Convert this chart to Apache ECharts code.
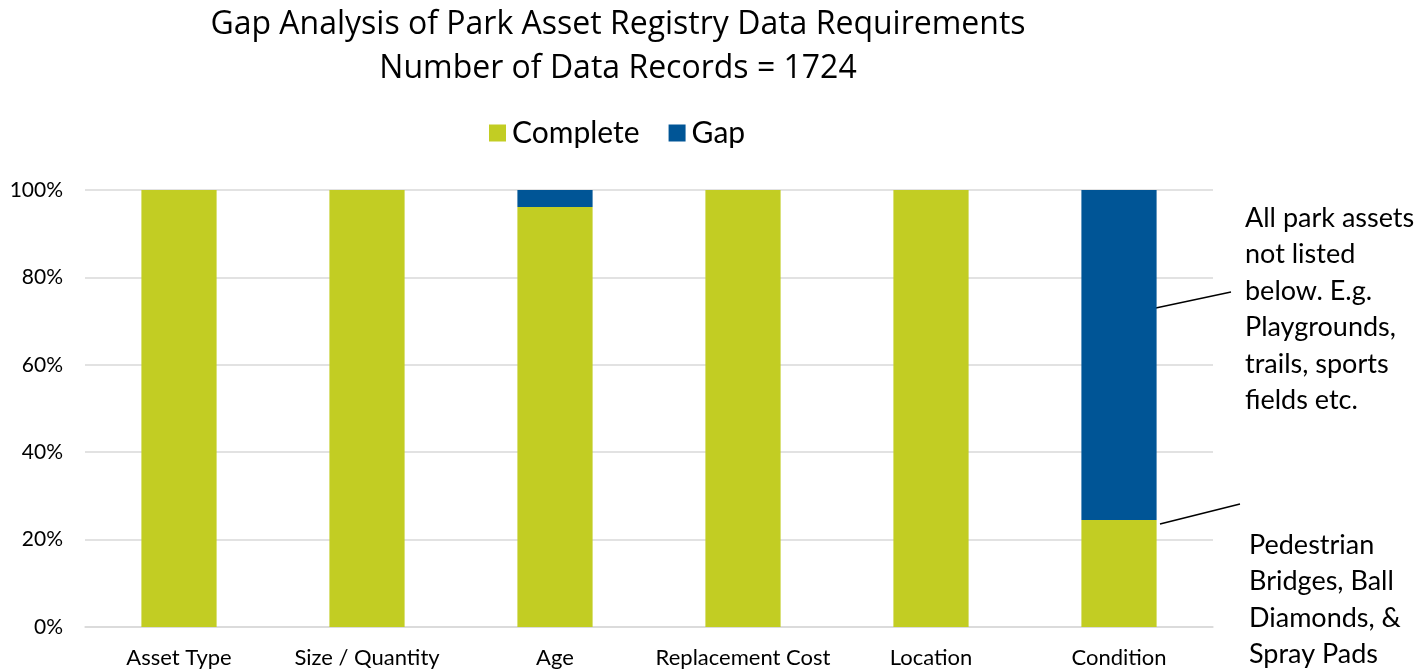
<!DOCTYPE html>
<html>
<head>
<meta charset="utf-8">
<title>Gap Analysis</title>
<script src="https://cdn.jsdelivr.net/npm/echarts@6/dist/echarts.min.js"></script>
<style>
  html, body { margin: 0; padding: 0; background: #fff; }
  #chart { width: 1416px; height: 671px; }
</style>
</head>
<body>
<div id="chart"></div>
<script>
// data
var categories = ['Asset Type', 'Size / Quantity', 'Age', 'Replacement Cost', 'Location', 'Condition'];
var completeValues = [100, 100, 96.1, 100, 100, 24.5];
var gapValues = [0, 0, 3.9, 0, 0, 75.5];
var yTicks = [0, 20, 40, 60, 80, 100];

var myChart = echarts.init(document.getElementById('chart'));

var textFont = 'Lato';

var option = {
    animation: false,
    title: {
        text: 'Gap Analysis of Park Asset Registry Data Requirements\nNumber of Data Records = 1724',
        left: 613,
        top: -2,
        textAlign: 'center',
        textStyle: {
            fontFamily: 'Open Sans',
            fontWeight: 'normal',
            fontSize: 32,
            lineHeight: 44,
            color: '#000'
        }
    },
    legend: {
        data: ['Complete', 'Gap'],
        left: 484,
        top: 113,
        itemWidth: 17,
        itemHeight: 17,
        itemGap: 29,
        icon: 'rect',
        textStyle: {
            fontFamily: textFont,
            fontSize: 30,
            color: '#000',
            padding: [0, 0, 0, 1]
        }
    },
    grid: {
        left: 85,
        right: 203,
        top: 190,
        bottom: 44
    },
    xAxis: {
        type: 'category',
        data: categories,
        axisLine: { lineStyle: { color: '#d9d9d9', width: 1.5 } },
        axisTick: { show: false },
        axisLabel: {
            interval: 0,
            fontFamily: textFont,
            fontSize: 22,
            color: '#000',
            margin: 20
        }
    },
    yAxis: {
        type: 'value',
        min: 0,
        max: 100,
        interval: 20,
        axisLine: { show: false },
        axisTick: { show: false },
        axisLabel: {
            fontFamily: textFont,
            fontSize: 21,
            color: '#000',
            margin: 22,
            formatter: function (v) {
                return yTicks.indexOf(v) >= 0 ? v + '%' : '';
            }
        },
        splitLine: { lineStyle: { color: '#d9d9d9', width: 1.5 } }
    },
    series: [{
        name: 'Complete',
        type: 'bar',
        stack: 'total',
        barWidth: '40%',
        itemStyle: { color: '#c2cd23' },
        data: completeValues
    }, {
        name: 'Gap',
        type: 'bar',
        stack: 'total',
        barWidth: '40%',
        itemStyle: { color: '#005596' },
        data: gapValues
    }],
    graphic: [{
        type: 'line',
        shape: { x1: 1151, y1: 309, x2: 1231, y2: 292 },
        style: { stroke: '#000', lineWidth: 1.3 }
    }, {
        type: 'line',
        shape: { x1: 1160, y1: 524, x2: 1240, y2: 504 },
        style: { stroke: '#000', lineWidth: 1.3 }
    }, {
        type: 'text',
        left: 1245,
        top: 200,
        style: {
            text: 'All park assets\nnot listed\nbelow. E.g.\nPlaygrounds,\ntrails, sports\nfields etc.',
            font: '27px Lato',
            lineHeight: 36.5,
            fill: '#000'
        }
    }, {
        type: 'text',
        left: 1249,
        top: 527,
        style: {
            text: 'Pedestrian\nBridges, Ball\nDiamonds, &\nSpray Pads',
            font: '27px Lato',
            lineHeight: 36.5,
            fill: '#000'
        }
    }]
};

myChart.setOption(option);
</script>
</body>
</html>
